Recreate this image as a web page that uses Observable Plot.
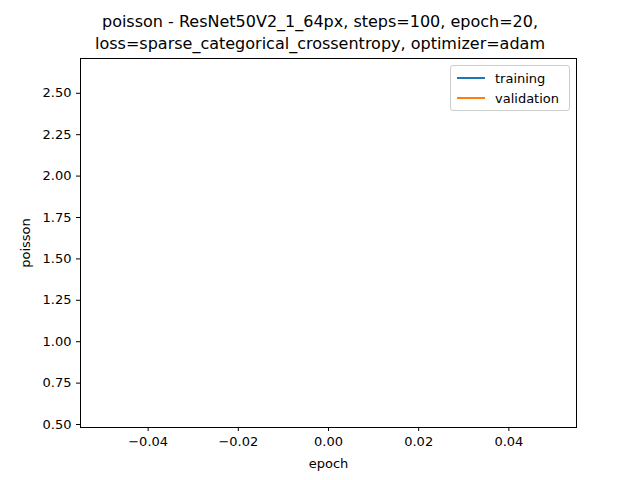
<!DOCTYPE html>
<html><head><meta charset="utf-8">
<script src="https://cdn.jsdelivr.net/npm/d3@7"></script>
<script src="https://cdn.jsdelivr.net/npm/@observablehq/plot@0.6"></script>
<style>
body{margin:0;background:#fff;font-family:"DejaVu Sans",sans-serif}
#wrap{position:relative;width:640px;height:480px}
#title{height:50px;text-align:center;font-size:16px;line-height:22px;padding-top:11px;box-sizing:border-box;color:#000}
#legend{position:absolute;left:450px;top:65px;width:118px;border:1px solid #ccc;border-radius:3px;background:#fff;font-size:13px;padding:2px 0}
#legend div{display:flex;align-items:center;height:20px;padding-left:6px}
#legend span.sw{display:inline-block;width:28px;height:2px;margin-right:10px}
</style></head>
<body><div id="wrap">
<div id="title">poisson - ResNet50V2_1_64px, steps=100, epoch=20,<br>loss=sparse_categorical_crossentropy, optimizer=adam</div>
<div id="chart"></div>
<div id="legend"></div>
</div>
<script>
const epochs = [0];
const training = [2.61];
const validation = [0.583];
const seriesNames = ["training", "validation"];
const seriesColors = ["#1f77b4", "#ff7f0e"];
const xTicks = [-0.04, -0.02, 0, 0.02, 0.04];
const yTicks = [0.5, 0.75, 1.0, 1.25, 1.5, 1.75, 2.0, 2.25, 2.5];

const data = [];
epochs.forEach((e, i) => {
  data.push({epoch: e, value: training[i], series: "training"});
  data.push({epoch: e, value: validation[i], series: "validation"});
});

const plot = Plot.plot({
  width: 640, height: 430,
  marginLeft: 80, marginRight: 64, marginTop: 8, marginBottom: 53,
  style: {fontFamily: "DejaVu Sans, sans-serif", fontSize: "12px", color: "#000"},
  x: {domain: [-0.055, 0.055], ticks: xTicks, tickFormat: d3.format(".2f"), label: "epoch", labelAnchor: "center", labelArrow: "none", labelOffset: 40, tickSize: 4},
  y: {domain: [0.482, 2.71], ticks: yTicks, tickFormat: d3.format(".2f"), label: "poisson", labelAnchor: "center", labelArrow: "none", labelOffset: 60, tickSize: 4},
  color: {domain: seriesNames, range: seriesColors},
  marks: [
    Plot.frame({stroke: "#000"}),
    Plot.line(data, {x: "epoch", y: "value", stroke: "series", strokeWidth: 1.5, strokeLinecap: "butt"})
  ]
});
plot.querySelectorAll("text").forEach(t => {
  if (t.textContent.includes("⚠")) t.remove();
  else t.style.fontSize = "13px";
});
document.getElementById("chart").appendChild(plot);

const lg = document.getElementById("legend");
seriesNames.forEach((n, i) => {
  const d = document.createElement("div");
  d.innerHTML = `<span class="sw" style="background:${seriesColors[i]}"></span>${n}`;
  lg.appendChild(d);
});
</script>
</body></html>
